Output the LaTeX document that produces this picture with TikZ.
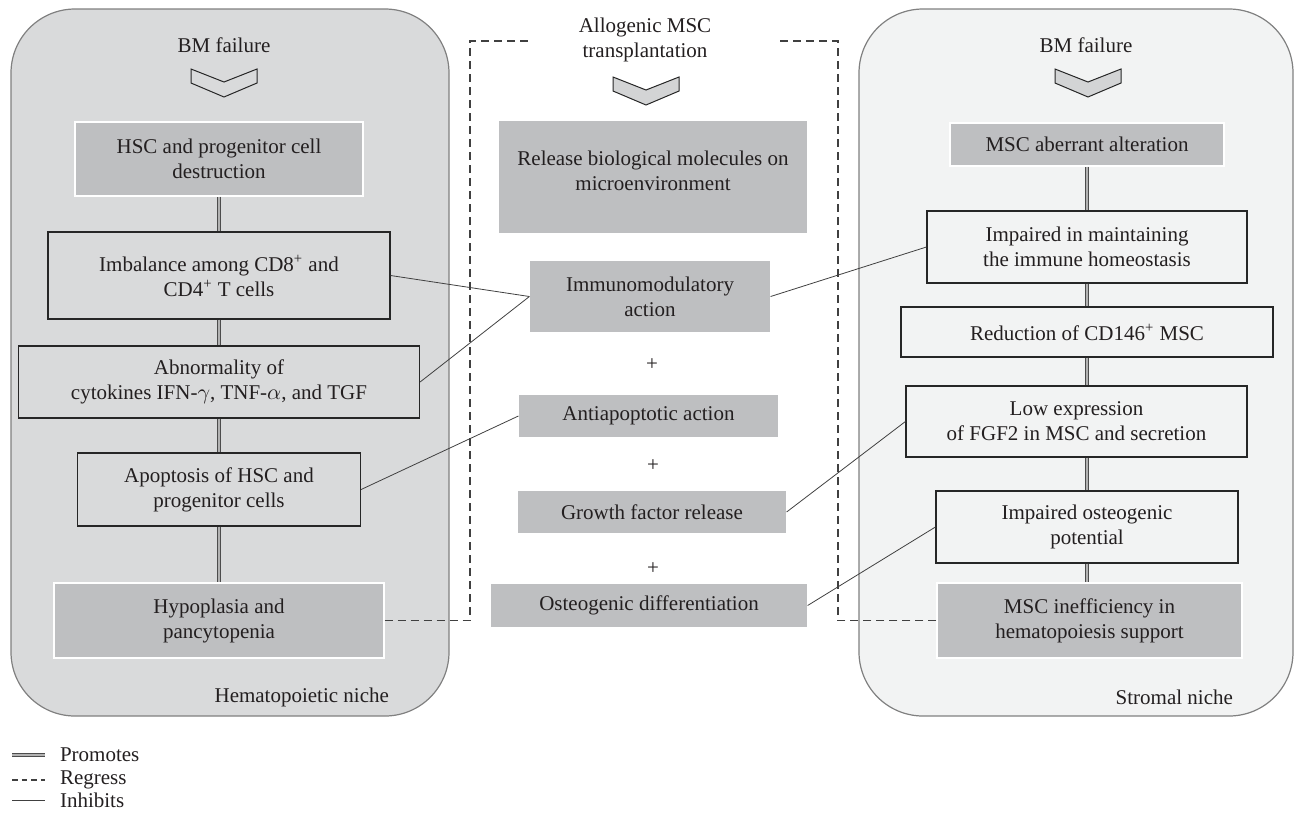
\documentclass[tikz,border=0pt]{standalone}
\usepackage{fontspec}
\setmainfont{Liberation Serif}
\usetikzlibrary{calc}

\definecolor{hemagray}{HTML}{D9DADB}
\definecolor{stromagray}{HTML}{F2F3F3}
\definecolor{boxgray}{HTML}{BEBFC1}
\definecolor{chevgray}{HTML}{D3D4D5}
\definecolor{txtgray}{HTML}{231F20}

\begin{document}
\begin{tikzpicture}[x=0.5pt, y=-0.5pt, font=\fontsize{10.5}{12.5}\selectfont, text=txtgray,
  fillbox/.style={fill=boxgray, draw=white, line width=0.6pt, align=center, inner sep=0pt},
  linebox/.style={draw=black!85, line width=0.6pt, align=center, inner sep=0pt},
  promotes/.style={draw=black!70, double=black!30, double distance=0.6pt, line width=0.5pt},
  regress/.style={draw=black!75, dash pattern=on 4pt off 2.5pt, line width=0.6pt},
  inhibits/.style={draw=black!75, line width=0.4pt},
  pics/chevron/.style={code={\draw[draw=black!85, line width=0.5pt, fill=#1]
    (-33,1) -- (0,14) -- (33,1) -- (33,15) -- (0,29) -- (-33,15) -- cycle;}}]
\useasboundingbox (0,0) rectangle (1295,816);

%niches
\draw[black!50, line width=0.6pt, fill=hemagray, rounded corners=32pt] (11,9) rectangle (449,716);
\draw[black!50, line width=0.6pt, fill=stromagray, rounded corners=32pt] (859,9) rectangle (1293,716);
\node[anchor=east] (hemaniche) at (396,697) {Hematopoietic niche};
\node[anchor=east] (stromaniche) at (1240,697) {Stromal niche};

%titles
\node (bmleft) at (224,45) {BM failure};
\node[align=center] (allo) at (645,40) {Allogenic MSC\\transplantation};
\node (bmright) at (1086,45) {BM failure};
\pic at (224,68) {chevron=hemagray};
\pic at (646,76) {chevron=chevgray};
\pic at (1088,68) {chevron=chevgray};

%hematopoietic niche
\node[fillbox, minimum width=144pt, minimum height=37pt] (hsc) at (219,159) {HSC and progenitor cell\\destruction};
\node[linebox, minimum width=171pt, minimum height=43.5pt] (imb) at (219,275.5) {Imbalance among CD8\textsuperscript{+} and\\CD4\textsuperscript{+} T cells};
\node[linebox, minimum width=200.5pt, minimum height=36pt] (abn) at (219,382) {Abnormality of\\cytokines IFN-$\gamma$, TNF-$\alpha$, and TGF};
\node[linebox, minimum width=141.5pt, minimum height=36.5pt] (apo) at (219,489.5) {Apoptosis of HSC and\\progenitor cells};
\node[fillbox, minimum width=165pt, minimum height=37.5pt] (hyp) at (219,620.5) {Hypoplasia and\\pancytopenia};

%transplantation
\node[fillbox, draw=none, minimum width=154pt, minimum height=56pt] (rel) at (653,177) {Release biological molecules on\\microenvironment\\[-6pt]};
\node[fillbox, draw=none, minimum width=120pt, minimum height=35.5pt] (imm) at (650,296.5) {Immunomodulatory\\action};
\node (plus1) at (652,365) {+};
\node[fillbox, draw=none, minimum width=129.5pt, minimum height=21pt] (anti) at (648.5,416) {Antiapoptotic action};
\node (plus2) at (653,466) {+};
\node[fillbox, draw=none, minimum width=134pt, minimum height=21pt] (grow) at (652,512) {Growth factor release};
\node (plus3) at (653,569) {+};
\node[fillbox, draw=none, minimum width=158pt, minimum height=21.5pt] (ost) at (649,605.5) {Osteogenic differentiation};

%stromal niche
\node[fillbox, minimum width=137pt, minimum height=21.5pt] (msc) at (1087,144.5) {MSC aberrant alteration};
\node[linebox, minimum width=160pt, minimum height=36pt] (imp) at (1087,247) {Impaired in maintaining\\the immune homeostasis};
\node[linebox, minimum width=186pt, minimum height=25pt] (red) at (1087,332) {Reduction of CD146\textsuperscript{+} MSC};
\node[linebox, minimum width=170.5pt, minimum height=35.5pt] (low) at (1076.5,421.5) {Low expression\\of FGF2 in MSC and secretion};
\node[linebox, minimum width=151pt, minimum height=36pt] (impo) at (1087,527) {Impaired osteogenic\\potential};
\node[fillbox, minimum width=152.5pt, minimum height=37.5pt] (ineff) at (1089.5,620.5) {MSC inefficiency in\\hematopoiesis support};

%promotes
\draw[promotes] (hsc) -- (imb);
\draw[promotes] (imb) -- (abn);
\draw[promotes] (abn) -- (apo);
\draw[promotes] (apo) -- (hyp);
\draw[promotes] (msc) -- (imp);
\draw[promotes] (imp) -- (red);
\draw[promotes] (red) -- (red |- low.north);
\draw[promotes] (low.south -| impo) -- (impo);
\draw[promotes] (impo) -- (impo |- ineff.north);

%regress
\coordinate (dashtl) at (470,41);
\coordinate (dashtle) at (530,41);
\coordinate (dashtr) at (838,41);
\coordinate (dashtre) at (778,41);
\draw[regress] (hyp.east) -| (dashtl) -- (dashtle);
\draw[regress] (ineff.west) -| (dashtr) -- (dashtre);

%inhibits
\draw[inhibits] (imb.east) -- (imm.west);
\draw[inhibits] (abn.east) -- (imm.west);
\draw[inhibits] (apo.east) -- (anti.west);
\draw[inhibits] (imm.east) -- (imp.west);
\draw[inhibits] (grow.east) -- (low.west);
\draw[inhibits] (ost.east) -- (impo.west);

%legend
\coordinate (lg1) at (12,755);
\coordinate (lg1e) at (45,755);
\coordinate (lg2) at (12,780);
\coordinate (lg2e) at (45,780);
\coordinate (lg3) at (12,800);
\coordinate (lg3e) at (45,800);
\draw[promotes] (lg1) -- (lg1e);
\draw[regress, dash pattern=on 2.8pt off 2pt] (lg2) -- (lg2e);
\draw[inhibits] (lg3) -- (lg3e);
\node[anchor=west] (lgpro) at (53,755) {Promotes};
\node[anchor=west] (lgreg) at (53,780) {Regress};
\node[anchor=west] (lginh) at (53,800) {Inhibits};
\end{tikzpicture}
\end{document}
